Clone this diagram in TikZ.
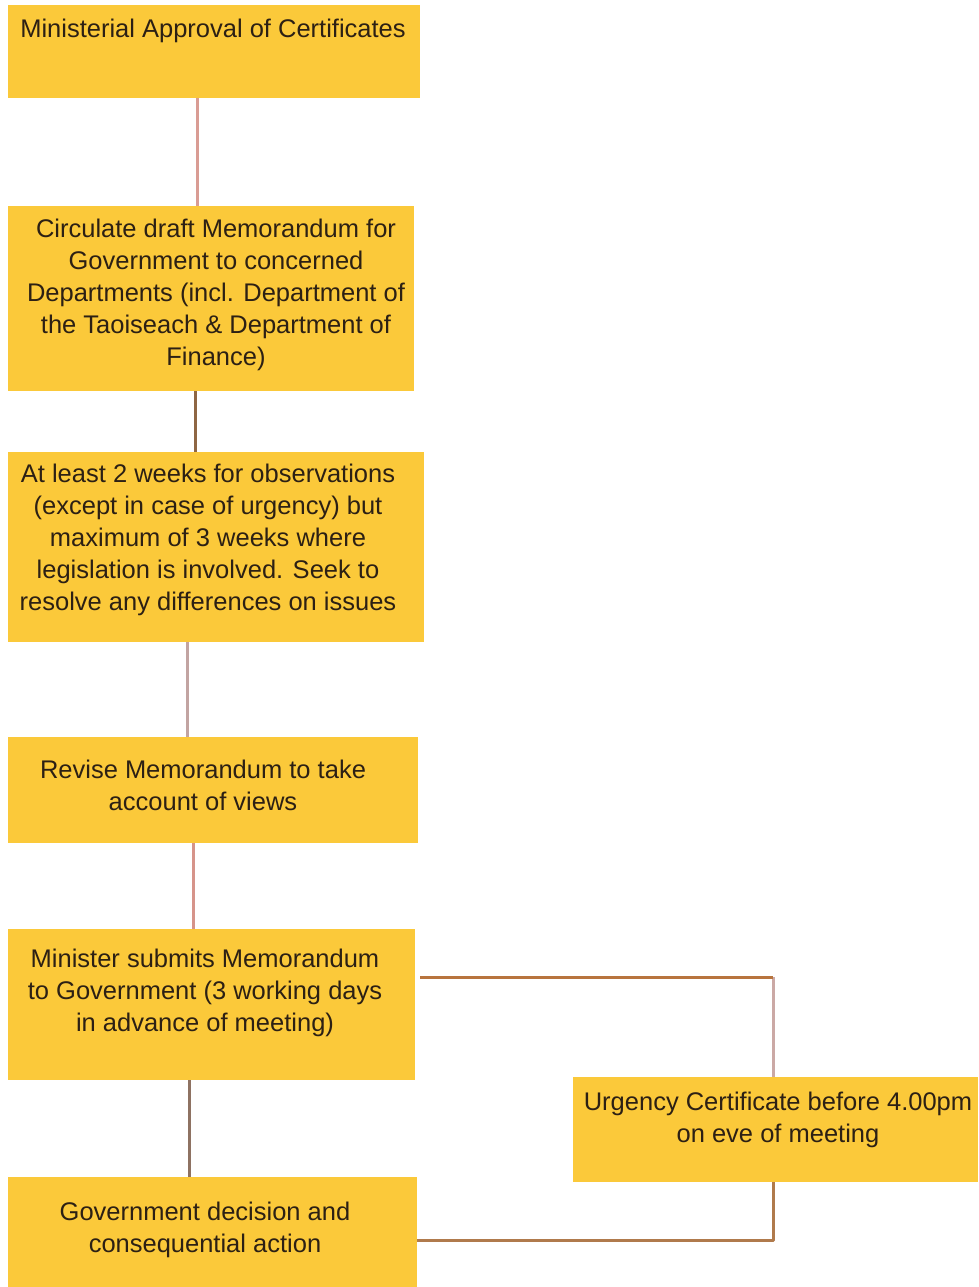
\documentclass[tikz,border=0pt]{standalone}
\usepackage{fontspec}
\setmainfont{Liberation Sans}
\definecolor{boxfill}{HTML}{FBC93A}
\definecolor{txtcol}{HTML}{2C2014}
\definecolor{lnpink}{HTML}{D99C94}
\definecolor{lnbrown}{HTML}{8E6644}
\definecolor{lngray}{HTML}{C2A4A2}
\definecolor{lnrose}{HTML}{D6948A}
\definecolor{lndark}{HTML}{8E7262}
\definecolor{lnorange}{HTML}{B8743E}
\definecolor{lnmauve}{HTML}{CBA9A5}
\definecolor{lnbrown2}{HTML}{B07A4C}
\newcommand{\tstrut}{\rule{0pt}{18pt}}
\begin{document}
\begin{tikzpicture}[x=1pt,y=-1pt,
  box/.style={draw=none, fill=boxfill, rectangle, inner sep=0pt, anchor=north west},
  txt/.style={anchor=north, inner sep=0pt, align=center, text=txtcol,
    font=\fontsize{25.5}{32}\selectfont},
  conn/.style={line width=3pt}]
\fill[white] (0,0) rectangle (978,1287);
\useasboundingbox (0,0) rectangle (978,1287);

% boxes
\node[box, minimum width=412pt, minimum height=93pt] (b1) at (8,5) {};
\node[box, minimum width=406pt, minimum height=185pt] (b2) at (8,206) {};
\node[box, minimum width=416pt, minimum height=190pt] (b3) at (8,452) {};
\node[box, minimum width=410pt, minimum height=106pt] (b4) at (8,737) {};
\node[box, minimum width=407pt, minimum height=151pt] (b5) at (8,929) {};
\node[box, minimum width=409pt, minimum height=110pt] (b6) at (8,1177) {};
\node[box, minimum width=405pt, minimum height=105pt] (b7) at (573,1077) {};

% texts
\node[txt] (t1) at (213,19) {\tstrut Ministerial Approval of Certificates};
\node[txt] (t2) at (216,219) {\tstrut Circulate draft Memorandum for\\Government to concerned\\Departments (incl. Department of\\the Taoiseach \& Department of\\Finance)};
\node[txt] (t3) at (208,464) {\tstrut At least 2 weeks for observations\\(except in case of urgency) but\\maximum of 3 weeks where\\legislation is involved. Seek to\\resolve any differences on issues};
\node[txt] (t4) at (203,760) {\tstrut Revise Memorandum to take\\account of views};
\node[txt] (t5) at (205,949) {\tstrut Minister submits Memorandum\\to Government (3 working days\\in advance of meeting)};
\node[txt] (t6) at (205,1202) {\tstrut Government decision and\\consequential action};
\node[txt] (t7) at (778,1092) {\tstrut Urgency Certificate before 4.00pm\\on eve of meeting};

% vertical connectors
\draw[conn, lnpink] ([xshift=189pt]b1.south west) -- ([xshift=189pt]b2.north west);
\draw[conn, lnbrown] ([xshift=187pt]b2.south west) -- ([xshift=187pt]b3.north west);
\draw[conn, lngray] ([xshift=179pt]b3.south west) -- ([xshift=179pt]b4.north west);
\draw[conn, lnrose] ([xshift=185pt]b4.south west) -- ([xshift=185pt]b5.north west);
\draw[conn, lndark] ([xshift=181pt]b5.south west) -- ([xshift=181pt]b6.north west);

% urgency branch
\coordinate (e5) at ([xshift=5pt,yshift=27.5pt]b5.east);
\coordinate (u7) at ([xshift=-2.5pt]b7.north);
\coordinate (d7) at ([xshift=-2.5pt]b7.south);
\coordinate (e6) at ([yshift=-8pt]b6.east);
\coordinate (k1) at (u7 |- e5);
\coordinate (k2) at (d7 |- e6);
\draw[conn, lnmauve] (k1) -- (u7);
\draw[conn, lnorange] (e5) -- (k1);
\draw[conn, lnbrown2, line join=round] (d7) -- (k2) -- (e6);
\end{tikzpicture}
\end{document}
